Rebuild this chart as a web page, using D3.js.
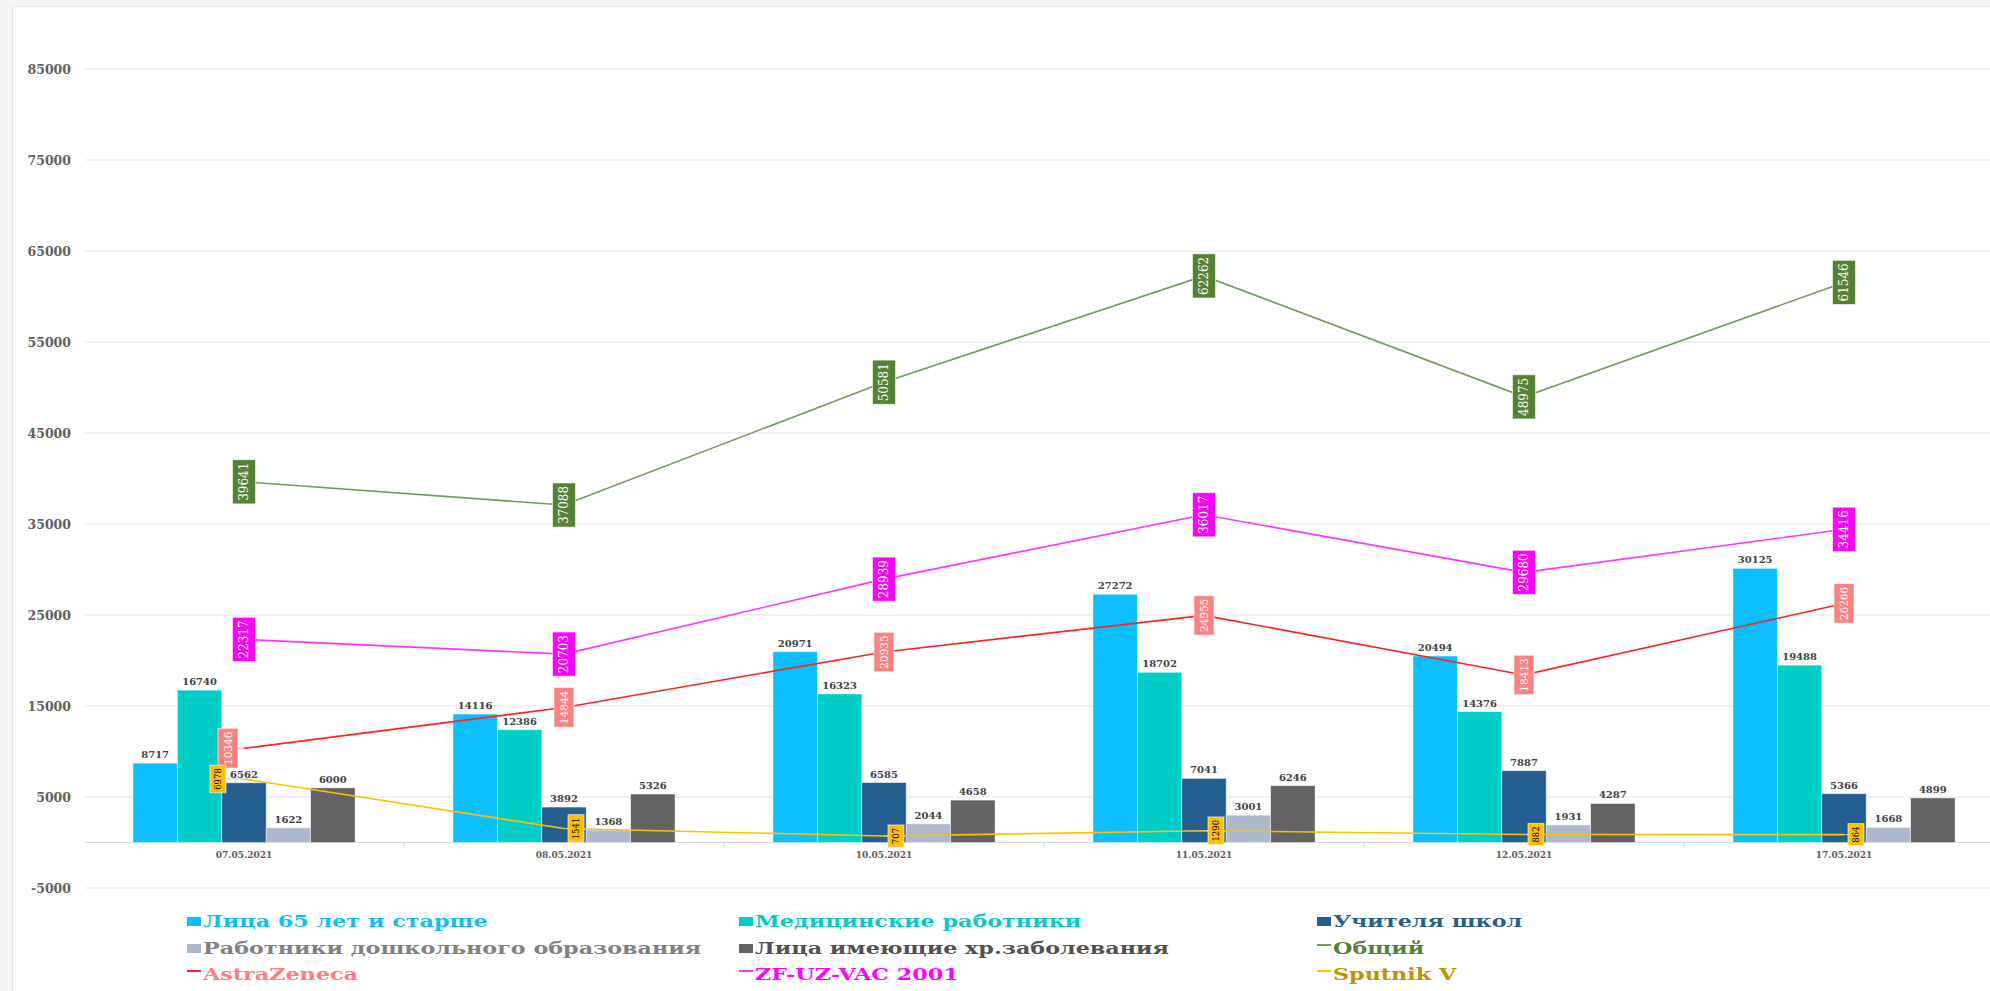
<!DOCTYPE html>
<html>
<head>
<meta charset="utf-8">
<script src="https://cdn.jsdelivr.net/npm/d3@7"></script>
<style>
  html, body { margin: 0; padding: 0; background: #f4f4f4; overflow: hidden; }
  svg { display: block; }
</style>
</head>
<body>
<svg id="chart" width="1990" height="991"></svg>
<script>
// ---------- DATA ----------
const dates = ["07.05.2021", "08.05.2021", "10.05.2021", "11.05.2021", "12.05.2021", "17.05.2021"];
const seniors   = [8717, 14116, 20971, 27272, 20494, 30125];
const medics    = [16740, 12386, 16323, 18702, 14376, 19488];
const teachers  = [6562, 3892, 6585, 7041, 7887, 5366];
const preschool = [1622, 1368, 2044, 3001, 1931, 1668];
const chronic   = [6000, 5326, 4658, 6246, 4287, 4899];
const total     = [39641, 37088, 50581, 62262, 48975, 61546];
const astra     = [10346, 14844, 20935, 24955, 18413, 26266];
const zf        = [22317, 20703, 28939, 36017, 29680, 34416];
const sputnik   = [6978, 1541, 707, 1290, 882, 864];
const yTicks    = [-5000, 5000, 15000, 25000, 35000, 45000, 55000, 65000, 75000, 85000];

const barSeries = [
  { name: "Лица 65 лет и старше", values: seniors, color: "#0BBFFF", text: "#0BBFFF" },
  { name: "Медицинские работники", values: medics, color: "#00CCC8", text: "#00CCC8" },
  { name: "Учителя школ", values: teachers, color: "#255E91", text: "#255E91" },
  { name: "Работники дошкольного образования", values: preschool, color: "#ADB9CA", text: "#808080" },
  { name: "Лица имеющие хр.заболевания", values: chronic, color: "#636363", text: "#505050" }
];
const lineSeries = [
  { name: "Общий", values: total, color: "#6E9B55", box: "#548235", boxText: "#ffffff", text: "#548235", fs: 12, boxW: 23 },
  { name: "AstraZeneca", values: astra, color: "#FF2020", box: "#FF8080", boxText: "#ffffff", text: "#FF7C80", fs: 10.5, boxW: 20 },
  { name: "ZF-UZ-VAC 2001", values: zf, color: "#FF33FF", box: "#FF00FF", boxText: "#ffffff", text: "#FF00FF", fs: 12, boxW: 23 },
  { name: "Sputnik V", values: sputnik, color: "#FFC000", box: "#FFC000", boxText: "#000000", text: "#BF9000", fs: 8.5, boxW: 16 }
];

// ---------- LAYOUT ----------
const svg = d3.select("#chart");
const serif = "'DejaVu Serif', 'Liberation Serif', serif";

svg.append("rect").attr("x", 12.5).attr("y", 6.5).attr("width", 2000).attr("height", 1000)
  .attr("fill", "#ffffff").attr("stroke", "#e2e2e2");

const x = d3.scaleBand().domain(dates).range([84, 2004]).paddingInner(0.306).paddingOuter(0.153);
const xs = d3.scaleBand().domain(d3.range(barSeries.length)).range([0, x.bandwidth()]);
const y = d3.scaleLinear().domain([-5000, 85000]).range([888, 69]);

// gridlines
svg.append("g").selectAll("line").data(yTicks).join("line")
  .attr("x1", 85).attr("x2", 2004)
  .attr("y1", d => y(d)).attr("y2", d => y(d))
  .attr("stroke", "#ececec").attr("stroke-width", 1.5);

// y labels
svg.append("g").selectAll("text").data(yTicks).join("text")
  .attr("x", 71).attr("y", d => y(d) + 4.5)
  .attr("text-anchor", "end")
  .attr("font-family", serif).attr("font-weight", "bold").attr("font-size", 12.5)
  .attr("fill", "#5f5f5f")
  .text(d => d);

// zero axis
svg.append("line").attr("x1", 85).attr("x2", 2004).attr("y1", y(0)).attr("y2", y(0))
  .attr("stroke", "#d9d9d9").attr("stroke-width", 1.2);
svg.append("g").selectAll("line").data(dates.slice(1)).join("line")
  .attr("x1", d => x(d) - x.step() * x.paddingInner() / 2)
  .attr("x2", d => x(d) - x.step() * x.paddingInner() / 2)
  .attr("y1", y(0)).attr("y2", y(0) + 4)
  .attr("stroke", "#d0d0d0");
svg.append("g").selectAll("text").data(dates).join("text")
  .attr("x", d => x(d) + x.bandwidth() / 2).attr("y", y(0) + 15)
  .attr("text-anchor", "middle")
  .attr("font-family", serif).attr("font-weight", "bold").attr("font-size", 9)
  .attr("fill", "#5a5a5a")
  .text(d => d);

// bars
const barG = svg.append("g");
barSeries.forEach((s, si) => {
  barG.append("g").selectAll("rect").data(s.values).join("rect")
    .attr("x", (d, i) => x(dates[i]) + xs(si))
    .attr("y", d => y(d))
    .attr("width", xs.bandwidth())
    .attr("height", d => y(0) - y(d))
    .attr("fill", s.color)
    .attr("stroke", "#ffffff").attr("stroke-opacity", 0.55).attr("stroke-width", 0.8);
});

// lines
const cx = i => x(dates[i]) + x.bandwidth() / 2;
lineSeries.forEach(s => {
  const line = d3.line().x((d, i) => cx(i)).y(d => y(d));
  svg.append("path").datum(s.values)
    .attr("d", line).attr("fill", "none")
    .attr("stroke", s.color).attr("stroke-width", 1.6);
});

// bar labels
barSeries.forEach((s, si) => {
  barG.append("g").selectAll("text").data(s.values).join("text")
    .attr("x", (d, i) => x(dates[i]) + xs(si) + xs.bandwidth() / 2)
    .attr("y", d => y(d) - 5)
    .attr("text-anchor", "middle")
    .attr("font-family", serif).attr("font-weight", "bold").attr("font-size", 10)
    .attr("fill", "#404040")
    .text(d => d);
});

// line labels (rotated boxes)
const labelDx = (s, i) => {
  if (s.name === "Sputnik V") return i === 0 ? -26 : 12;
  if (s.name === "AstraZeneca" && i === 0) return -16;
  return 0;
};
lineSeries.forEach(s => {
  const g = svg.append("g");
  s.values.forEach((v, i) => {
    const px = cx(i), py = y(v);
    const dx = labelDx(s, i);
    const lx = px + dx;
    if (dx !== 0) {
      g.append("line").attr("x1", lx + (dx < 0 ? s.boxW / 2 : -s.boxW / 2)).attr("x2", px)
        .attr("y1", py).attr("y2", py).attr("stroke", "#bfbfbf").attr("stroke-width", 1);
    }
    const lg = g.append("g").attr("transform", `translate(${lx},${py}) rotate(-90)`);
    const t = lg.append("text")
      .attr("x", 0).attr("y", 0).attr("dy", "0.36em")
      .attr("text-anchor", "middle")
      .attr("font-family", serif).attr("font-size", s.fs)
      .attr("fill", s.boxText)
      .text(v);
    const bb = t.node().getBBox();
    lg.insert("rect", "text")
      .attr("x", bb.x - 3).attr("y", -s.boxW / 2)
      .attr("width", bb.width + 6).attr("height", s.boxW)
      .attr("fill", s.box).attr("stroke", "#ffffff").attr("stroke-opacity", 0.6);
  });
});

// legend
const legendItems = [
  ...barSeries.map(s => ({ ...s, type: "bar" })),
  ...lineSeries.map(s => ({ ...s, type: "line" }))
];
const colX = [187, 739, 1317];
const rowY = [927, 954, 980];
const leg = svg.append("g");
legendItems.forEach((d, k) => {
  const gx = colX[k % 3], gy = rowY[Math.floor(k / 3)];
  const g = leg.append("g").attr("transform", `translate(${gx},${gy})`);
  if (d.type === "bar") {
    g.append("rect").attr("x", 0).attr("y", -10).attr("width", 14).attr("height", 9).attr("fill", d.color);
  } else {
    g.append("line").attr("x1", 0).attr("x2", 14).attr("y1", -9).attr("y2", -9)
      .attr("stroke", d.color).attr("stroke-width", 2);
  }
  g.append("text").attr("transform", "translate(16,0) scale(1.31,1)")
    .attr("font-family", serif).attr("font-weight", "bold").attr("font-size", 17)
    .attr("fill", d.text)
    .text(d.name);
});
</script>
</body>
</html>
